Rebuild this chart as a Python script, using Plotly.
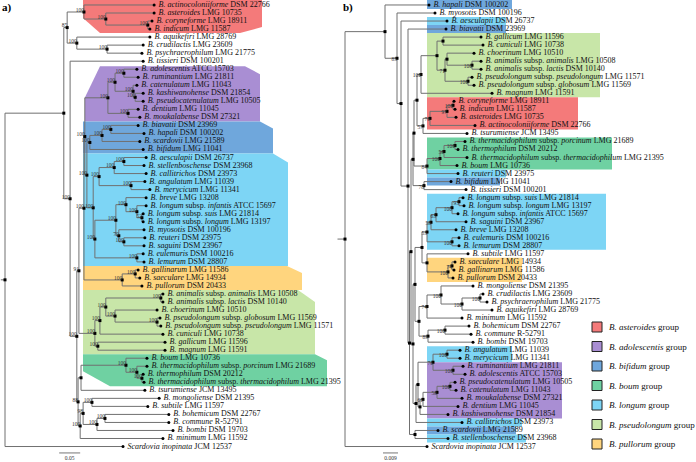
import plotly.graph_objects as go

# ---------------- data: tree a (left) ----------------
A_TAXA = [
    ("B. actinocoloniiforme", "DSM 22766"), ("B. asteroides", "LMG 10735"),
    ("B. coryneforme", "LMG 18911"), ("B. indicum", "LMG 11587"),
    ("B. aquikefiri", "LMG 28769"), ("B. crudilactis", "LMG 23609"),
    ("B. psychraerophilum", "LMG 21775"), ("B. tissieri", "DSM 100201"),
    ("B. adolescentis", "ATCC 15703"), ("B. ruminantium", "LMG 21811"),
    ("B. catenulatum", "LMG 11043"), ("B. kashiwanohense", "DSM 21854"),
    ("B. pseudocatenulatum", "LMG 10505"), ("B. dentium", "LMG 11045"),
    ("B. moukalabense", "DSM 27321"), ("B. biavatii", "DSM 23969"),
    ("B. hapali", "DSM 100202"), ("B. scardovii", "LMG 21589"),
    ("B. bifidum", "LMG 11041"), ("B. aesculapii", "DSM 26737"),
    ("B. stellenboschense", "DSM 23968"), ("B. callitrichos", "DSM 23973"),
    ("B. angulatum", "LMG 11039"), ("B. merycicum", "LMG 11341"),
    ("B. breve", "LMG 13208"), ("B. longum subsp. infantis", "ATCC 15697"),
    ("B. longum subsp. suis", "LMG 21814"), ("B. longum subsp. longum", "LMG 13197"),
    ("B. myosotis", "DSM 100196"), ("B. reuteri", "DSM 23975"),
    ("B. saguini", "DSM 23967"), ("B. eulemuris", "DSM 100216"),
    ("B. lemurum", "DSM 28807"), ("B. gallinarum", "LMG 11586"),
    ("B. saeculare", "LMG 14934"), ("B. pullorum", "DSM 20433"),
    ("B. animalis subsp. animalis", "LMG 10508"), ("B. animalis subsp. lactis", "DSM 10140"),
    ("B. choerinum", "LMG 10510"), ("B. pseudolongum subsp. globosum", "LMG 11569"),
    ("B. pseudolongum subsp. pseudolongum", "LMG 11571"), ("B. cuniculi", "LMG 10738"),
    ("B. gallicum", "LMG 11596"), ("B. magnum", "LMG 11591"),
    ("B. boum", "LMG 10736"), ("B. thermacidophilum subsp. porcinum", "LMG 21689"),
    ("B. thermophilum", "DSM 20212"), ("B. thermacidophilum subsp. thermacidophilum", "LMG 21395"),
    ("B. tsurumiense", "JCM 13495"), ("B. mongoliense", "DSM 21395"),
    ("B. subtile", "LMG 11597"), ("B. bohemicum", "DSM 22767"),
    ("B. commune", "R-52791"), ("B. bombi", "DSM 19703"),
    ("B. minimum", "LMG 11592"), ("Scardovia inopinata", "JCM 12537"),
]
# distance of each tip from the root (substitutions/site)
A_TIP = [0.355, 0.355, 0.350, 0.345, 0.345, 0.329, 0.326, 0.329, 0.314, 0.317,
         0.314, 0.329, 0.329, 0.317, 0.321, 0.317, 0.331, 0.321, 0.329, 0.336,
         0.331, 0.336, 0.333, 0.345, 0.336, 0.336, 0.329, 0.329, 0.331, 0.333,
         0.331, 0.329, 0.331, 0.317, 0.321, 0.326, 0.376, 0.376, 0.362, 0.369,
         0.371, 0.376, 0.381, 0.381, 0.338, 0.338, 0.329, 0.331, 0.333, 0.367,
         0.340, 0.390, 0.390, 0.400, 0.376, 0.281]
# internal nodes: (id, distance from root, bootstrap, children)
A_NODES = [
    ("root", 0.000, "", ["G", 55]), ("G", 0.140, "", ["D", "H"]),
    ("D", 0.148, "85", ["A", "E"]), ("A", 0.188, "100", [0, "B"]),
    ("B", 0.240, "100", [1, "C"]), ("C", 0.340, "100", [2, 3]),
    ("E", 0.171, "100", [4, "F"]), ("F", 0.243, "100", [5, 6]),
    ("H", 0.155, "100", [7, "J"]), ("J", 0.171, "100", ["N91", "Q3"]),
    ("N91", 0.176, "91", ["P", "PLR"]), ("P", 0.188, "100", ["Na", "YR"]),
    ("Na", 0.190, "100", ["PUR", "BL"]), ("PUR", 0.245, "100", ["PU1", "DM"]),
    ("PU1", 0.262, "100", ["AR", "CK"]), ("AR", 0.283, "100", [8, 9]),
    ("CK", 0.305, "100", [10, "KP"]), ("KP", 0.310, "100", [11, 12]),
    ("DM", 0.293, "100", [13, 14]), ("BL", 0.195, "100", ["BIF", "LR"]),
    ("BIF", 0.202, "100", ["BI2", 18]), ("BI2", 0.231, "100", ["BH", 17]),
    ("BH", 0.252, "100", [15, 16]), ("LR", 0.210, "100", ["LA", "LB"]),
    ("LA", 0.224, "100", ["LA1", "AM"]), ("LA1", 0.260, "100", ["AS", 21]),
    ("AS", 0.283, "100", [19, 20]), ("AM", 0.300, "100", [22, 23]),
    ("LB", 0.214, "100", ["LB1", "EL"]), ("LB1", 0.264, "100", ["LB2", "LB3"]),
    ("LB2", 0.288, "100", [24, "LB4"]), ("LB4", 0.314, "100", [25, "SL"]),
    ("SL", 0.326, "52", [26, 27]), ("LB3", 0.271, "70", [28, "RS"]),
    ("RS", 0.283, "100", [29, 30]), ("EL", 0.314, "100", [31, 32]),
    ("YR", 0.279, "100", ["GS", 35]), ("GS", 0.310, "100", [33, 34]),
    ("PLR", 0.214, "100", ["A1", "GM"]), ("A1", 0.226, "100", ["A2", 41]),
    ("A2", 0.240, "100", ["AL", "A3"]), ("AL", 0.371, "100", [36, 37]),
    ("A3", 0.262, "100", [38, "GP"]), ("GP", 0.362, "100", [39, 40]),
    ("GM", 0.221, "100", [42, 43]), ("Q3", 0.174, "88", ["BT", "Q2"]),
    ("BT", 0.181, "", ["BR", 48]), ("BR", 0.288, "100", [44, "BO1"]),
    ("BO1", 0.314, "100", [45, "BO2"]), ("BO2", 0.326, "100", [46, 47]),
    ("Q2", 0.179, "100", ["Q1", 54]), ("Q1", 0.186, "98", ["MS", "Q4"]),
    ("MS", 0.207, "100", [49, 50]), ("Q4", 0.219, "100", ["BC", 53]),
    ("BC", 0.238, "100", [51, 52]),
]
A_SCALE = 0.05

# ---------------- data: tree b (right) ----------------
B_TAXA = [
    ("B. hapali", "DSM 100202"), ("B. myosotis", "DSM 100196"),
    ("B. aesculapii", "DSM 26737"), ("B. biavatii", "DSM 23969"),
    ("B. gallicum", "LMG 11596"), ("B. cuniculi", "LMG 10738"),
    ("B. choerinum", "LMG 10510"), ("B. animalis subsp. animalis", "LMG 10508"),
    ("B. animalis subsp. lactis", "DSM 10140"), ("B. pseudolongum subsp. pseudolongum", "LMG 11571"),
    ("B. pseudolongum subsp. globosum", "LMG 11569"), ("B. magnum", "LMG 11591"),
    ("B. coryneforme", "LMG 18911"), ("B. indicum", "LMG 11587"),
    ("B. asteroides", "LMG 10735"), ("B. actinocoloniiforme", "DSM 22766"),
    ("B. tsurumiense", "JCM 13495"), ("B. thermacidophilum subsp. porcinum", "LMG 21689"),
    ("B. thermophilum", "DSM 20212"), ("B. thermacidophilum subsp. thermacidophilum", "LMG 21395"),
    ("B. boum", "LMG 10736"), ("B. reuteri", "DSM 23975"),
    ("B. bifidum", "LMG 11041"), ("B. tissieri", "DSM 100201"),
    ("B. longum subsp. suis", "LMG 21814"), ("B. longum subsp. longum", "LMG 13197"),
    ("B. longum subsp. infantis", "ATCC 15697"), ("B. saguini", "DSM 23967"),
    ("B. breve", "LMG 13208"), ("B. eulemuris", "DSM 100216"),
    ("B. lemurum", "DSM 28807"), ("B. subtile", "LMG 11597"),
    ("B. saeculare", "LMG 14934"), ("B. gallinarum", "LMG 11586"),
    ("B. pullorum", "DSM 20433"), ("B. mongoliense", "DSM 21395"),
    ("B. crudilactis", "LMG 23609"), ("B. psychraerophilum", "LMG 21775"),
    ("B. aquikefiri", "LMG 28769"), ("B. minimum", "LMG 11592"),
    ("B. bohemicum", "DSM 22767"), ("B. commune", "R-52791"),
    ("B. bombi", "DSM 19703"), ("B. angulatum", "LMG 11039"),
    ("B. merycicum", "LMG 11341"), ("B. ruminantium", "LMG 21811"),
    ("B. adolescentis", "ATCC 15703"), ("B. pseudocatenulatum", "LMG 10505"),
    ("B. catenulatum", "LMG 11043"), ("B. moukalabense", "DSM 27321"),
    ("B. dentium", "LMG 11045"), ("B. kashiwanohense", "DSM 21854"),
    ("B. callitrichos", "DSM 23973"), ("B. scardovii", "LMG 21589"),
    ("B. stellenboschense", "DSM 23968"), ("Scardovia inopinata", "JCM 12537"),
]
B_TIP = [0.0504, 0.0540, 0.0612, 0.0606, 0.0816, 0.0828, 0.0774, 0.0816, 0.0816, 0.0762,
         0.0774, 0.0882, 0.0654, 0.0660, 0.0666, 0.0780, 0.0732, 0.0720, 0.0678, 0.0732,
         0.0672, 0.0678, 0.0636, 0.0726, 0.0708, 0.0714, 0.0678, 0.0726, 0.0666, 0.0684,
         0.0684, 0.0738, 0.0660, 0.0654, 0.0648, 0.0768, 0.0828, 0.0852, 0.0882, 0.0702,
         0.0744, 0.0756, 0.0768, 0.0690, 0.0690, 0.0708, 0.0720, 0.0660, 0.0666, 0.0702,
         0.0678, 0.0618, 0.0702, 0.0558, 0.0618, 0.0492]
B_NODES = [
    ("root", 0.0000, "", ["R1", 55]), ("R1", 0.0240, "", [0, "R2"]),
    ("R2", 0.0312, "85", [1, "R3"]), ("R3", 0.0336, "", [2, "R4"]),
    ("R4", 0.0378, "", [3, "X"]), ("X", 0.0387, "", ["W", "q10"]),
    ("W", 0.0396, "", ["K2", "Z"]), ("K2", 0.0408, "", ["K", "b5"]),
    ("K", 0.0414, "", ["k1", "b4"]), ("k1", 0.0432, "", ["p7", "a4"]),
    ("p7", 0.0456, "100", ["p6", 11]), ("p6", 0.0552, "", ["p1", "p5"]),
    ("p1", 0.0588, "", [4, 5]), ("p5", 0.0600, "71", ["p3", "p4"]),
    ("p3", 0.0612, "", [6, "p2"]), ("p2", 0.0762, "100", [7, 8]),
    ("p4", 0.0738, "100", [9, 10]), ("a4", 0.0468, "57", ["a3", 16]),
    ("a3", 0.0510, "76", ["a2", 15]), ("a2", 0.0612, "97", ["a1", 14]),
    ("a1", 0.0648, "100", [12, 13]), ("b4", 0.0492, "84", ["b3", 21]),
    ("b3", 0.0570, "100", ["b2", 20]), ("b2", 0.0594, "56", ["b1", 19]),
    ("b1", 0.0660, "100", [17, 18]), ("b5", 0.0474, "78", [22, 23]),
    ("Z", 0.0408, "", ["M", "L1"]), ("M", 0.0420, "", ["LS", "m7"]),
    ("LS", 0.0462, "", ["l6", "st"]),
    ("l6", 0.0492, "53", ["l4", "l5"]), ("l4", 0.0516, "58", ["l3", 28]),
    ("l3", 0.0546, "63", ["l2", 27]), ("l2", 0.0642, "100", ["l1", 26]),
    ("l1", 0.0684, "93", [24, 25]), ("l5", 0.0642, "100", [29, 30]),
    ("st", 0.0492, "", [31, "y2"]), ("y2", 0.0618, "100", ["y1", 34]),
    ("y1", 0.0642, "74", [32, 33]), ("m7", 0.0444, "", ["m4", "m6"]),
    ("m4", 0.0492, "74", ["m3", 39]), ("m3", 0.0576, "100", [35, "m2"]),
    ("m2", 0.0702, "100", ["m1", 38]), ("m1", 0.0810, "100", [36, 37]),
    ("m6", 0.0498, "89", ["m5", 42]), ("m5", 0.0600, "100", [40, 41]),
    ("L1", 0.0426, "", ["q8", 52]), ("q8", 0.0438, "", ["q3", "q7"]),
    ("q3", 0.0528, "76", ["q1", "q2"]), ("q1", 0.0612, "100", [43, 44]),
    ("q2", 0.0648, "100", [45, 46]), ("q7", 0.0450, "", ["q6", 51]),
    ("q6", 0.0468, "61", ["q5", 50]), ("q5", 0.0552, "58", ["q4", 49]),
    ("q4", 0.0630, "100", [47, 48]), ("q10", 0.0420, "", [53, 54]),
]
B_SCALE = 0.009

# groups (legend order) and colours
GROUPS = ["asteroides", "adolescentis", "bifidum", "boum", "longum", "pseudolongum", "pullorum"]
GROUP_COLORS = {
    "asteroides": "#f47a7a", "adolescentis": "#a98ed3", "bifidum": "#6fa7dc",
    "boum": "#6fd1a2", "longum": "#7dd5f5", "pseudolongum": "#c8e6a8", "pullorum": "#ffd57e",
}
# shaded leaf ranges (group, first leaf, last leaf)
A_SHADE = [("asteroides", 0, 3), ("adolescentis", 8, 14), ("bifidum", 15, 18),
           ("longum", 19, 32), ("pullorum", 33, 35), ("pseudolongum", 36, 43), ("boum", 44, 47)]
B_SHADE = [("bifidum", 0, 0), ("longum", 2, 2), ("bifidum", 3, 3), ("pseudolongum", 4, 11),
           ("asteroides", 12, 15), ("boum", 17, 20), ("longum", 21, 21), ("bifidum", 22, 22),
           ("longum", 24, 30), ("pullorum", 32, 34), ("longum", 43, 44), ("adolescentis", 45, 51),
           ("longum", 52, 52), ("bifidum", 53, 53), ("longum", 54, 54)]

# ---------------- styling / geometry ----------------
W, H = 696, 462
FONT = "Liberation Serif"
A_PX_PER_UNIT, A_ROOT_PX = 420.0, 5.0
B_PX_PER_UNIT, B_ROOT_PX = 1666.7, 345.0
ROW_PX, ROW0_PX = 8.028, 4.98
# box extents in pixels: (left, right, chamfers {corner: (dx, dy)})
A_BOX_STYLE = [
    (83, 262, {"bl": (17, 15), "br": (22, 6)}),
    (85, 260, {"tl": (15, 31), "tr": (15, 8)}),
    (83, 273, {"tr": (13, 7)}),
    (83, 288, {"tr": (15, 9)}),
    (83, 302, {"tr": (15, 7)}),
    (83, 315, {"tr": (17, 12)}),
    (83, 327, {"tr": (12, 6), "bl": (27, 15)}),
]
B_BOX_RIGHT = [512, 506, 506, 600, 578, 612, 506, 500, 606, 522, 512, 562, 522, 516, 526]
B_BOX_LEFT = 427


def y_px(y):
    return ROW0_PX + ROW_PX * y


def fmt(taxon, strain):
    if " subsp. " in taxon:
        a, b = taxon.split(" subsp. ")
        t = f"<i>{a}</i> subsp. <i>{b}</i>"
    else:
        t = f"<i>{taxon}</i>"
    return f"{t} {strain}"


def tree_geometry(tips, nodes):
    nd = {n[0]: n for n in nodes}
    ys = {}

    def yv(c):
        if isinstance(c, int):
            return float(c)
        if c not in ys:
            ch = nd[c][3]
            ys[c] = (yv(ch[0]) + yv(ch[-1])) / 2.0
        return ys[c]

    def xv(c):
        return tips[c] if isinstance(c, int) else nd[c][1]

    lx, ly = [], []
    nx, nyy, sx, sy, st = [], [], [], [], []
    for nid, d, sup, ch in nodes:
        y0 = yv(nid)
        lx += [d, d, None]
        ly += [yv(ch[0]), yv(ch[-1]), None]
        for c in ch:
            lx += [d, xv(c), None]
            ly += [yv(c), yv(c), None]
        nx.append(d)
        nyy.append(y0)
        if sup:
            sx.append(d)
            sy.append(y0)
            st.append(sup)
    return lx, ly, nx, nyy, sx, sy, st, yv("root")


fig = go.Figure()


def add_tree(taxa, tips, nodes, xref, line_col, sup_pos, sup_dy, stub):
    lx, ly, nx, ny, sx, sy, st, ry = tree_geometry(tips, nodes)
    lx += [-stub, 0, None]
    ly += [ry, ry, None]
    fig.add_trace(go.Scatter(x=lx, y=ly, mode="lines", xaxis=xref, yaxis="y",
                             line=dict(color=line_col, width=1), hoverinfo="skip"))
    fig.add_trace(go.Scatter(x=nx, y=ny, mode="markers", xaxis=xref, yaxis="y",
                             marker=dict(symbol="square", size=3, color="black"), hoverinfo="skip"))
    fig.add_trace(go.Scatter(x=tips, y=list(range(len(tips))), mode="markers+text", xaxis=xref, yaxis="y",
                             marker=dict(symbol="circle", size=3, color="black"),
                             text=["\u2009" + fmt(t, s) for t, s in taxa], textposition="middle right",
                             textfont=dict(family=FONT, size=8, color="#111"),
                             cliponaxis=False, hoverinfo="skip"))
    fig.add_trace(go.Scatter(x=sx, y=[v + sup_dy for v in sy], mode="text", xaxis=xref, yaxis="y",
                             text=st, textposition=sup_pos,
                             textfont=dict(family=FONT, size=5.5, color="#333"),
                             cliponaxis=False, hoverinfo="skip"))


shapes = []


def poly(pts, color):
    path = "M " + " L ".join(f"{x / W:.5f},{1 - y / H:.5f}" for x, y in pts) + " Z"
    shapes.append(dict(type="path", path=path, xref="paper", yref="paper",
                       fillcolor=color, line=dict(width=0), layer="below"))


def box(left, right, top, bot, color, ch):
    pts = []
    if "tl" in ch:
        dx, dy = ch["tl"]
        pts += [(left, top + dy), (left + dx, top)]
    else:
        pts.append((left, top))
    if "tr" in ch:
        dx, dy = ch["tr"]
        pts += [(right - dx, top), (right, top + dy)]
    else:
        pts.append((right, top))
    if "br" in ch:
        dx, dy = ch["br"]
        pts += [(right, bot - dy), (right - dx, bot)]
    else:
        pts.append((right, bot))
    if "bl" in ch:
        dx, dy = ch["bl"]
        pts += [(left + dx, bot), (left, bot - dy)]
    else:
        pts.append((left, bot))
    poly(pts, color)


for (g, i0, i1), (l, r, ch) in zip(A_SHADE, A_BOX_STYLE):
    top = y_px(i0 - 0.5) if i0 > 0 else 0.0
    if g == "adolescentis":
        top = y_px(i0 - 0.38)
    box(l, r, top, y_px(i1 + 0.5), GROUP_COLORS[g], ch)

for (g, i0, i1), r in zip(B_SHADE, B_BOX_RIGHT):
    top = y_px(i0 - 0.5) if i0 > 0 else 0.0
    box(B_BOX_LEFT, r, top, y_px(i1 + 0.5), GROUP_COLORS[g], {})

add_tree(A_TAXA, A_TIP, A_NODES, "x", "#707070", "top left", 0.15, A_SCALE * 0.2)
add_tree(B_TAXA, B_TIP, B_NODES, "x2", "#707070", "bottom left", -0.15, B_SCALE * 0.5)

# scale bars
sb_y = 55.8
for xref, x0, s, lab in [("x", 0.129, A_SCALE, f"{A_SCALE:.2f}"), ("x2", 0.0228, B_SCALE, f"{B_SCALE:.3f}")]:
    fig.add_trace(go.Scatter(x=[x0, x0 + s], y=[sb_y, sb_y], mode="lines", xaxis=xref, yaxis="y",
                             line=dict(color="#777", width=1), hoverinfo="skip"))
    fig.add_trace(go.Scatter(x=[x0 + s / 2], y=[sb_y + 0.7], mode="text", xaxis=xref, yaxis="y",
                             text=[lab], textposition="middle center",
                             textfont=dict(family=FONT, size=5.5, color="#333"), cliponaxis=False,
                             hoverinfo="skip"))

# legend
annotations = []
for k, g in enumerate(GROUPS):
    cy = 327 + 19.5 * k
    shapes.append(dict(type="rect", xref="paper", yref="paper",
                       x0=592 / W, x1=602 / W, y0=1 - (cy - 5) / H, y1=1 - (cy + 5) / H,
                       fillcolor=GROUP_COLORS[g], line=dict(color="#222", width=1)))
    annotations.append(dict(x=607 / W, y=1 - cy / H, xref="paper", yref="paper", xanchor="left",
                            yanchor="middle", showarrow=False, text=f"<i>B. {g}</i> group",
                            font=dict(family=FONT, size=9, color="#111")))

annotations.append(dict(x=0, y=1 - 8 / H, xref="paper", yref="paper", xanchor="left", yanchor="middle",
                        showarrow=False, text="<b>a)</b>", font=dict(family=FONT, size=11, color="#000")))
annotations.append(dict(x=341 / W, y=1 - 8 / H, xref="paper", yref="paper", xanchor="left", yanchor="middle",
                        showarrow=False, text="<b>b)</b>", font=dict(family=FONT, size=11, color="#000")))

fig.update_layout(
    width=W, height=H, margin=dict(l=0, r=0, t=0, b=0),
    paper_bgcolor="white", plot_bgcolor="white", showlegend=False,
    shapes=shapes, annotations=annotations,
    xaxis=dict(range=[-A_ROOT_PX / A_PX_PER_UNIT, (W - A_ROOT_PX) / A_PX_PER_UNIT], domain=[0, 1],
               visible=False, fixedrange=True),
    xaxis2=dict(range=[-B_ROOT_PX / B_PX_PER_UNIT, (W - B_ROOT_PX) / B_PX_PER_UNIT], domain=[0, 1],
                overlaying="x", visible=False, fixedrange=True),
    yaxis=dict(range=[(H - ROW0_PX) / ROW_PX, -ROW0_PX / ROW_PX], visible=False, fixedrange=True),
)

fig.write_html("out.html", config={"displayModeBar": False},
               post_script="document.body.style.margin='0';document.body.style.overflow='hidden';")
